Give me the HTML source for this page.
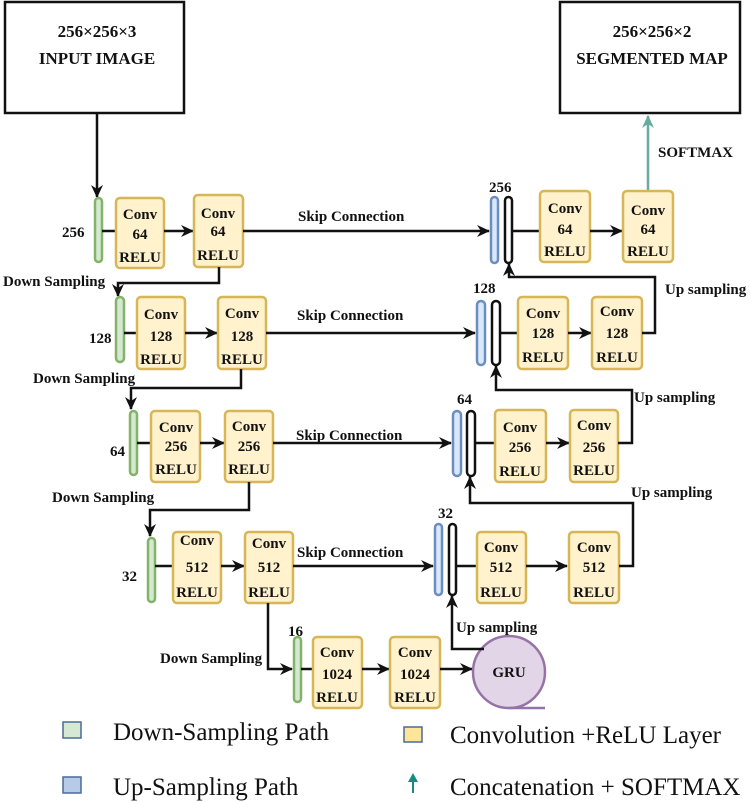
<!DOCTYPE html>
<html><head><meta charset="utf-8"><style>
html,body{margin:0;padding:0;background:#fff;}
svg{display:block;}
.b{font-family:"Liberation Serif",serif;font-weight:bold;font-size:15px;fill:#111;}
.c{font-family:"Liberation Serif",serif;font-weight:bold;font-size:15px;fill:#111;text-anchor:middle;}
.t{font-family:"Liberation Serif",serif;font-weight:bold;font-size:17px;fill:#111;text-anchor:middle;}
.l{font-family:"Liberation Serif",serif;font-size:25px;fill:#111;}
.y{fill:#fff2cc;stroke:#d6b656;stroke-width:2.5;}
.g{fill:#d5e8d4;stroke:#82b366;stroke-width:2.5;}
.u{fill:#dae8fc;stroke:#6c8ebf;stroke-width:2.5;}
.k{fill:#fff;stroke:#111;stroke-width:2.5;}
.w{fill:none;stroke:#111;stroke-width:2.5;}
</style></head><body>
<svg width="750" height="802" viewBox="0 0 750 802">
<defs>
<marker id="a" markerWidth="14" markerHeight="12" refX="12" refY="6" orient="auto" markerUnits="userSpaceOnUse"><path d="M0,0 L13,6 L0,12 L4,6z" fill="#111"/></marker>
<marker id="t" markerWidth="14" markerHeight="12" refX="12" refY="6" orient="auto" markerUnits="userSpaceOnUse"><path d="M0,0 L13,6 L0,12 L4,6z" fill="#67ab9f"/></marker>
</defs>
<rect x="5" y="2" width="179" height="111" fill="#fff" stroke="#111" stroke-width="2.5"/>
<text class="t" x="97" y="37">256×256×3</text>
<text class="t" x="97" y="64">INPUT IMAGE</text>
<rect x="560" y="2" width="180" height="111" fill="#fff" stroke="#111" stroke-width="2.5"/>
<text class="t" x="652" y="37">256×256×2</text>
<text class="t" x="652" y="64">SEGMENTED MAP</text>

<path class="w" d="M97,113 V197" marker-end="url(#a)"/>
<line x1="648" y1="191" x2="648" y2="116" stroke="#67ab9f" stroke-width="2.5" marker-end="url(#t)"/>
<text class="b" x="658" y="157">SOFTMAX</text>

<!-- Row 1 -->
<rect class="g" x="95" y="198" width="7" height="64" rx="3.5"/>
<text class="b" x="62" y="237">256</text>
<path class="w" d="M102,231 H116"/>
<rect class="y" x="116" y="198" width="48" height="70" rx="4"/>
<path class="w" d="M164,231 H193" marker-end="url(#a)"/>
<rect class="y" x="194" y="195" width="49" height="72" rx="4"/>
<path class="w" d="M243,231 H489" marker-end="url(#a)"/>
<text class="b" x="298" y="221">Skip Connection</text>
<rect class="u" x="491" y="197" width="7" height="66" rx="3.5"/>
<rect class="k" x="505" y="197" width="7" height="66" rx="3.5"/>
<text class="b" x="489" y="192">256</text>
<path class="w" d="M512,231 H540"/>
<rect class="y" x="540" y="191" width="50" height="71" rx="4"/>
<path class="w" d="M590,231 H622" marker-end="url(#a)"/>
<rect class="y" x="623" y="191" width="50" height="71" rx="4"/>
<path class="w" d="M219,267 V283 H118 V296" marker-end="url(#a)"/>
<text class="b" x="3" y="286">Down Sampling</text>

<!-- Row 2 -->
<rect class="g" x="116" y="297" width="8" height="65" rx="4"/>
<text class="b" x="89" y="343">128</text>
<path class="w" d="M124,333 H137"/>
<rect class="y" x="137" y="297" width="48" height="72" rx="4"/>
<path class="w" d="M185,333 H217" marker-end="url(#a)"/>
<rect class="y" x="218" y="297" width="48" height="72" rx="4"/>
<path class="w" d="M266,333 H475" marker-end="url(#a)"/>
<text class="b" x="297" y="320">Skip Connection</text>
<rect class="u" x="477" y="301" width="8" height="64" rx="4"/>
<rect class="k" x="492" y="301" width="8" height="64" rx="4"/>
<text class="b" x="473" y="293">128</text>
<path class="w" d="M500,333 H518"/>
<rect class="y" x="518" y="297" width="50" height="72" rx="4"/>
<path class="w" d="M568,333 H591" marker-end="url(#a)"/>
<rect class="y" x="592" y="297" width="50" height="72" rx="4"/>
<path class="w" d="M642,333 H655 V277 H509 V264" marker-end="url(#a)"/>
<text class="b" x="665" y="294">Up sampling</text>
<path class="w" d="M241,369 V388 H131 V409" marker-end="url(#a)"/>
<text class="b" x="33" y="383">Down Sampling</text>

<!-- Row 3 -->
<rect class="g" x="130" y="411" width="7" height="64" rx="3.5"/>
<text class="b" x="110" y="456">64</text>
<path class="w" d="M137,443 H151"/>
<rect class="y" x="151" y="411" width="49" height="71" rx="4"/>
<path class="w" d="M200,443 H224" marker-end="url(#a)"/>
<rect class="y" x="225" y="411" width="48" height="71" rx="4"/>
<path class="w" d="M273,443 H451" marker-end="url(#a)"/>
<text class="b" x="296" y="440">Skip Connection</text>
<rect class="u" x="453" y="411" width="8" height="65" rx="4"/>
<rect class="k" x="467" y="411" width="8" height="65" rx="4"/>
<text class="b" x="457" y="404">64</text>
<path class="w" d="M475,443 H495"/>
<rect class="y" x="495" y="410" width="51" height="72" rx="4"/>
<path class="w" d="M546,443 H569" marker-end="url(#a)"/>
<rect class="y" x="570" y="410" width="48" height="72" rx="4"/>
<path class="w" d="M618,443 H632 V390 H496 V366" marker-end="url(#a)"/>
<text class="b" x="634" y="402">Up sampling</text>
<path class="w" d="M249,482 V510 H150 V536" marker-end="url(#a)"/>
<text class="b" x="52" y="502">Down Sampling</text>

<!-- Row 4 -->
<rect class="g" x="148" y="538" width="7" height="64" rx="3.5"/>
<text class="b" x="122" y="581">32</text>
<path class="w" d="M155,566 H173"/>
<rect class="y" x="173" y="532" width="48" height="71" rx="4"/>
<path class="w" d="M221,566 H244" marker-end="url(#a)"/>
<rect class="y" x="245" y="532" width="48" height="71" rx="4"/>
<path class="w" d="M293,566 H433" marker-end="url(#a)"/>
<text class="b" x="297" y="557">Skip Connection</text>
<rect class="u" x="435" y="524" width="7" height="71" rx="3.5"/>
<rect class="k" x="449" y="524" width="7" height="71" rx="3.5"/>
<text class="b" x="438" y="518">32</text>
<path class="w" d="M456,566 H477"/>
<rect class="y" x="477" y="532" width="49" height="71" rx="4"/>
<path class="w" d="M526,566 H567" marker-end="url(#a)"/>
<rect class="y" x="569" y="532" width="50" height="71" rx="4"/>
<path class="w" d="M619,566 H633 V503 H470 V477" marker-end="url(#a)"/>
<text class="b" x="631" y="497">Up sampling</text>
<path class="w" d="M268,603 V669 H292" marker-end="url(#a)"/>
<text class="b" x="160" y="663">Down Sampling</text>

<!-- Row 5 -->
<rect class="g" x="294" y="637" width="7" height="65" rx="3.5"/>
<text class="b" x="288" y="636">16</text>
<path class="w" d="M301,669 H313"/>
<rect class="y" x="313" y="637" width="49" height="71" rx="4"/>
<path class="w" d="M362,669 H389" marker-end="url(#a)"/>
<rect class="y" x="390" y="637" width="50" height="71" rx="4"/>
<path class="w" d="M440,669 H472" marker-end="url(#a)"/>
<circle cx="509" cy="672" r="36" fill="#e1d5e7" stroke="#9673a6" stroke-width="2.5"/>
<path d="M509,708 H545" stroke="#9673a6" stroke-width="2.5" fill="none"/>
<text class="c" x="509" y="677">GRU</text>
<path class="w" d="M484,649 H452 V596" marker-end="url(#a)"/>
<text class="b" x="456" y="632">Up sampling</text>

<!-- box labels -->
<g class="c">
<text x="140" y="219">Conv</text><text x="140" y="239">64</text><text x="140" y="262">RELU</text>
<text x="218" y="218">Conv</text><text x="218" y="236">64</text><text x="218" y="260">RELU</text>
<text x="565" y="213">Conv</text><text x="565" y="234">64</text><text x="565" y="256">RELU</text>
<text x="648" y="215">Conv</text><text x="648" y="234">64</text><text x="648" y="256">RELU</text>
<text x="161" y="319">Conv</text><text x="161" y="341">128</text><text x="161" y="364">RELU</text>
<text x="242" y="318">Conv</text><text x="242" y="341">128</text><text x="242" y="364">RELU</text>
<text x="543" y="318">Conv</text><text x="543" y="338">128</text><text x="543" y="362">RELU</text>
<text x="617" y="316">Conv</text><text x="617" y="338">128</text><text x="617" y="362">RELU</text>
<text x="176" y="432">Conv</text><text x="176" y="451">256</text><text x="176" y="474">RELU</text>
<text x="249" y="431">Conv</text><text x="249" y="451">256</text><text x="249" y="474">RELU</text>
<text x="520" y="432">Conv</text><text x="520" y="452">256</text><text x="520" y="476">RELU</text>
<text x="594" y="430">Conv</text><text x="594" y="452">256</text><text x="594" y="475">RELU</text>
<text x="197" y="545">Conv</text><text x="197" y="572">512</text><text x="197" y="597">RELU</text>
<text x="269" y="548">Conv</text><text x="269" y="572">512</text><text x="269" y="597">RELU</text>
<text x="501" y="552">Conv</text><text x="501" y="572">512</text><text x="501" y="597">RELU</text>
<text x="594" y="552">Conv</text><text x="594" y="572">512</text><text x="594" y="597">RELU</text>
<text x="337" y="657">Conv</text><text x="337" y="679">1024</text><text x="337" y="702">RELU</text>
<text x="415" y="657">Conv</text><text x="415" y="679">1024</text><text x="415" y="702">RELU</text>
</g>

<!-- legend -->
<rect x="63" y="722" width="18" height="16" fill="#d5e8d4" stroke="#4a6a9a" stroke-width="1.5"/>
<text class="l" x="113" y="740">Down-Sampling Path</text>
<rect x="63" y="777" width="18" height="16" fill="#b7cae8" stroke="#4a6a9a" stroke-width="1.5"/>
<text class="l" x="113" y="795">Up-Sampling Path</text>
<rect x="404" y="727" width="18" height="15" fill="#ffe599" stroke="#4a6a9a" stroke-width="1.5"/>
<text class="l" x="450" y="743">Convolution +ReLU Layer</text>
<line x1="413" y1="793" x2="413" y2="780" stroke="#1a8a80" stroke-width="2"/>
<path d="M408,782 L413,773 L418,782z" fill="#1a8a80"/>
<text class="l" x="450" y="795">Concatenation + SOFTMAX</text>
</svg>
</body></html>
